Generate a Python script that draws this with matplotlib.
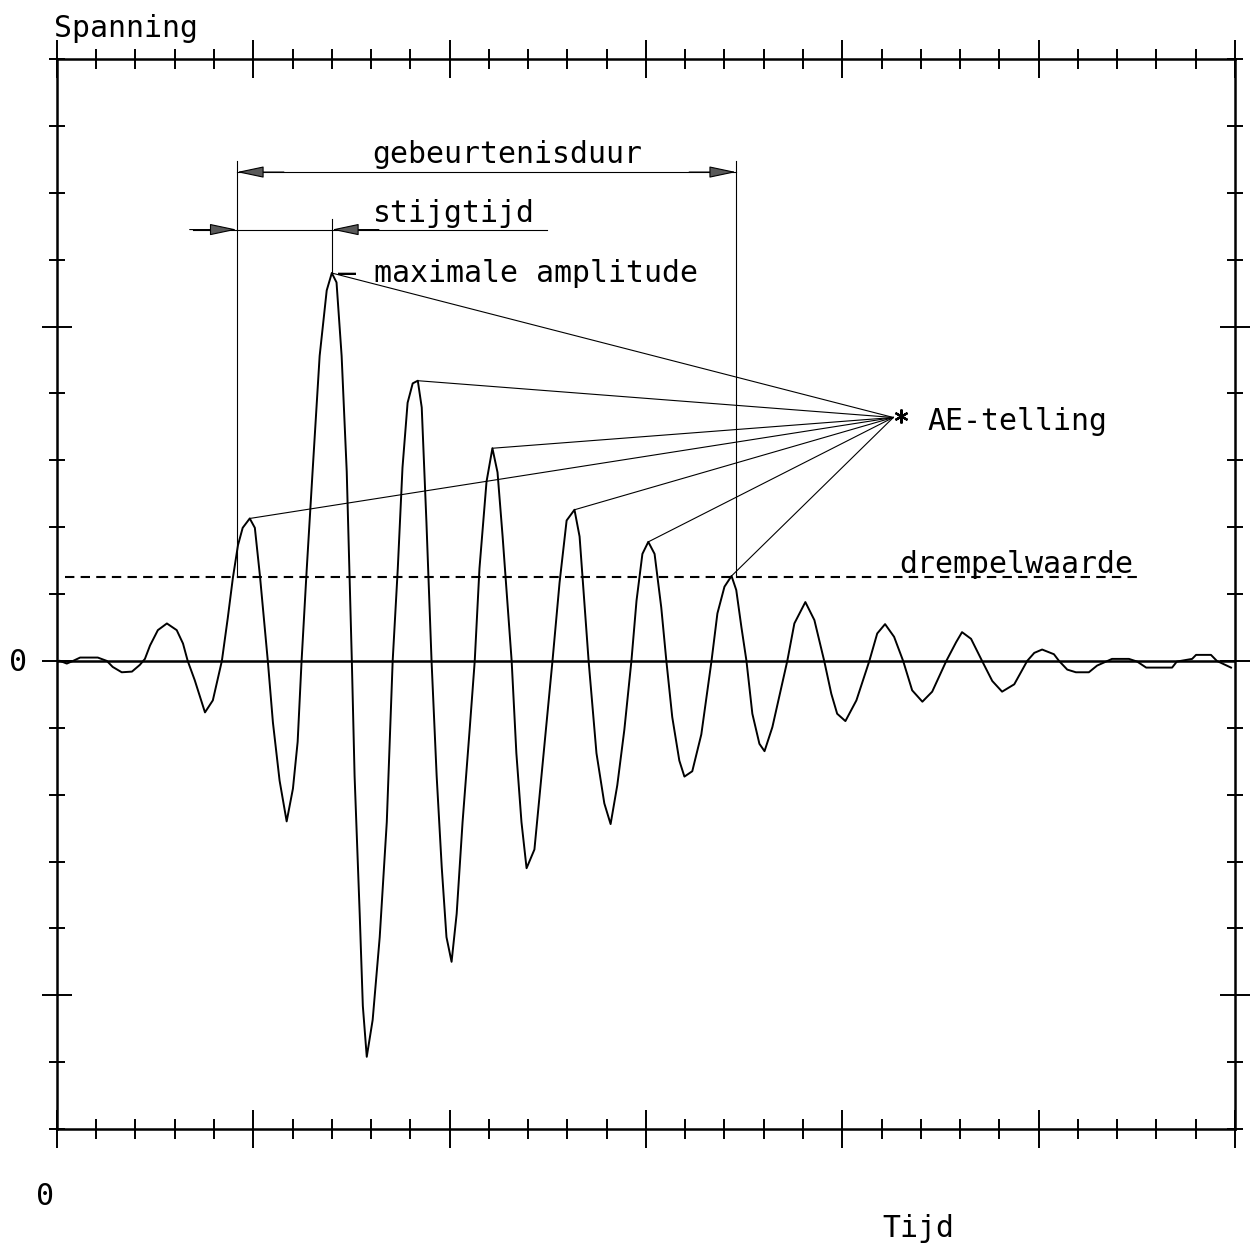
#!/usr/bin/env python3
"""Redraw the acoustic emission burst sketch (AE-telling, drempelwaarde, ...)."""

from __future__ import annotations

import matplotlib

matplotlib.use("Agg")
import matplotlib.pyplot as plt
from matplotlib.ticker import MultipleLocator

# Waveform, in grid divisions (x: 0..30, y: -7..9)
time_div = [
    0.08, 0.25, 0.41, 0.59, 1.04, 1.27, 1.42, 1.65, 1.91, 2.11,
    2.24, 2.37, 2.57, 2.80, 3.05, 3.21, 3.33, 3.51, 3.77, 3.97,
    4.20, 4.35, 4.48, 4.61, 4.73, 4.91, 5.04, 5.17, 5.37, 5.50,
    5.67, 5.85, 6.01, 6.13, 6.23, 6.36, 6.51, 6.69, 6.87, 7.00,
    7.12, 7.25, 7.38, 7.51, 7.58, 7.71, 7.79, 7.89, 8.04, 8.22,
    8.40, 8.55, 8.68, 8.80, 8.93, 9.06, 9.19, 9.29, 9.41, 9.54,
    9.67, 9.80, 9.92, 10.05, 10.18, 10.33, 10.51, 10.64, 10.76, 10.94,
    11.09, 11.22, 11.35, 11.58, 11.70, 11.83, 11.96, 12.16, 12.34, 12.62,
    12.80, 12.98, 13.18, 13.31, 13.54, 13.74, 13.94, 14.10, 14.27, 14.45,
    14.63, 14.76, 14.91, 15.06, 15.22, 15.39, 15.52, 15.67, 15.85, 15.98,
    16.18, 16.41, 16.67, 16.82, 17.00, 17.18, 17.30, 17.43, 17.56, 17.71,
    17.89, 18.02, 18.22, 18.45, 18.60, 18.78, 19.06, 19.29, 19.54, 19.72,
    19.87, 20.08, 20.36, 20.69, 20.89, 21.09, 21.32, 21.55, 21.78, 22.04,
    22.29, 22.65, 22.90, 23.05, 23.28, 23.56, 23.82, 24.07, 24.38, 24.71,
    24.89, 25.09, 25.39, 25.52, 25.73, 25.95, 26.28, 26.49, 26.87, 27.30,
    27.51, 27.74, 28.40, 28.52, 28.91, 29.01, 29.39, 29.54, 29.90,
]
voltage_div = [
    0.00, -0.04, 0.00, 0.05, 0.05, 0.00, -0.09, -0.17, -0.16, -0.06,
    0.03, 0.23, 0.46, 0.56, 0.46, 0.26, 0.00, -0.29, -0.77, -0.59,
    0.00, 0.64, 1.24, 1.73, 1.99, 2.13, 1.99, 1.27, 0.00, -0.92,
    -1.79, -2.40, -1.91, -1.21, 0.00, 1.36, 2.83, 4.56, 5.54, 5.80,
    5.66, 4.56, 2.83, 0.00, -1.72, -3.78, -5.16, -5.92, -5.37, -4.13,
    -2.41, 0.00, 1.38, 2.89, 3.86, 4.15, 4.19, 3.79, 2.07, 0.00,
    -1.72, -3.09, -4.13, -4.50, -3.78, -2.41, -1.03, 0.00, 1.38, 2.68,
    3.18, 2.82, 1.86, 0.00, -1.38, -2.41, -3.10, -2.82, -1.72, 0.00,
    1.17, 2.10, 2.26, 1.86, 0.00, -1.38, -2.13, -2.44, -1.86, -1.03,
    0.00, 0.90, 1.60, 1.78, 1.60, 0.80, 0.00, -0.84, -1.49, -1.73,
    -1.65, -1.10, 0.00, 0.71, 1.11, 1.27, 1.06, 0.51, 0.00, -0.79,
    -1.24, -1.35, -0.99, -0.39, 0.00, 0.56, 0.88, 0.61, 0.00, -0.49,
    -0.79, -0.90, -0.59, 0.00, 0.41, 0.55, 0.36, 0.00, -0.44, -0.61,
    -0.46, 0.00, 0.28, 0.43, 0.33, 0.00, -0.30, -0.46, -0.35, 0.00,
    0.12, 0.17, 0.10, 0.00, -0.13, -0.17, -0.17, -0.07, 0.03, 0.03,
    -0.01, -0.10, -0.10, -0.01, 0.03, 0.09, 0.09, 0.00, -0.10,
]

threshold = 1.25
threshold_span = [0.2, 27.55]
event_start = 4.58
event_end = 17.3
ae_point = (21.3, 3.64)

FONT = 21.5


def local_peaks(xs: list[float], ys: list[float], level: float) -> list[tuple[float, float]]:
    peaks = []
    for i in range(1, len(ys) - 1):
        if ys[i] > ys[i - 1] and ys[i] >= ys[i + 1] and ys[i] >= level:
            peaks.append((xs[i], ys[i]))
    return peaks


def head(ax, tip: tuple[float, float], tail: tuple[float, float]) -> None:
    ax.annotate(
        "",
        xy=tip,
        xytext=tail,
        arrowprops=dict(
            arrowstyle="-|>,head_length=0.85,head_width=0.18",
            mutation_scale=20,
            lw=0.8,
            color="black",
            fc="0.35",
            shrinkA=0,
            shrinkB=0,
        ),
    )


def main() -> int:
    plt.rcParams["font.family"] = ["DejaVu Sans Mono"]
    fig = plt.figure(figsize=(12.6, 12.43), dpi=100)
    ax = fig.add_axes([0.0452, 0.0917, 0.9349, 0.8608])
    ax.set_xlim(0, 30)
    ax.set_ylim(-7, 9)

    ax.xaxis.set_major_locator(MultipleLocator(5))
    ax.xaxis.set_minor_locator(MultipleLocator(1))
    ax.yaxis.set_major_locator(MultipleLocator(5))
    ax.yaxis.set_minor_locator(MultipleLocator(1))
    ax.tick_params(which="both", direction="inout", top=True, right=True,
                   labelbottom=False, labelleft=False, width=1.4, color="black")
    ax.tick_params(axis="x", which="major", length=28)
    ax.tick_params(axis="x", which="minor", length=14)
    ax.tick_params(axis="y", which="major", length=21)
    ax.tick_params(axis="y", which="minor", length=11)
    for spine in ax.spines.values():
        spine.set_linewidth(1.8)

    ax.axhline(0, color="black", lw=1.8)
    ax.plot(threshold_span, [threshold, threshold], color="black", lw=1.5,
            linestyle=(0, (4.5, 3.0)))
    ax.plot(time_div, voltage_div, color="black", lw=1.4)

    # lines from every counted peak to the AE-telling star
    for px, py in local_peaks(time_div, voltage_div, threshold):
        ax.plot([px, ae_point[0]], [py, ae_point[1]], color="black", lw=0.8)
    ax.plot([21.5], [3.66], marker=(6, 2, 0), markersize=10, mew=1.6, color="black")

    # event duration and rise time markers
    peak_v = max(voltage_div)
    peak_t = time_div[voltage_div.index(peak_v)]
    ax.plot([event_start, event_start], [7.47, threshold], color="black", lw=0.8)
    ax.plot([event_end, event_end], [7.47, threshold], color="black", lw=0.8)
    ax.plot([peak_t, peak_t], [6.61, peak_v], color="black", lw=0.8)

    ax.plot([event_start, event_end], [7.31, 7.31], color="black", lw=0.8)
    head(ax, (event_start, 7.31), (event_start + 1.2, 7.31))
    head(ax, (event_end, 7.31), (event_end - 1.2, 7.31))

    ax.plot([3.46, 12.49], [6.45, 6.45], color="black", lw=0.8)
    head(ax, (event_start, 6.45), (event_start - 1.2, 6.45))
    head(ax, (peak_t, 6.45), (peak_t + 1.2, 6.45))

    text_kw = dict(fontsize=FONT, va="baseline", ha="left", color="black", clip_on=False)
    ax.text(8.04, 7.44, "gebeurtenisduur", **text_kw)
    ax.text(8.04, 6.57, "stijgtijd", **text_kw)
    ax.text(7.15, 5.67, "\u2013 maximale amplitude", **text_kw)
    ax.text(22.16, 3.45, "AE-telling", **text_kw)
    ax.text(21.45, 1.32, "drempelwaarde", **text_kw)
    ax.text(-0.08, 9.33, "Spanning", **text_kw)
    ax.text(21.02, -8.62, "Tijd", **text_kw)
    ax.text(-0.3, -8.13, "0", **{**text_kw, "ha": "center"})
    ax.text(-0.99, -0.15, "0", **{**text_kw, "ha": "center"})

    fig.savefig("out.png", dpi=100, facecolor="white")
    plt.close(fig)
    return 0


if __name__ == "__main__":
    raise SystemExit(main())
